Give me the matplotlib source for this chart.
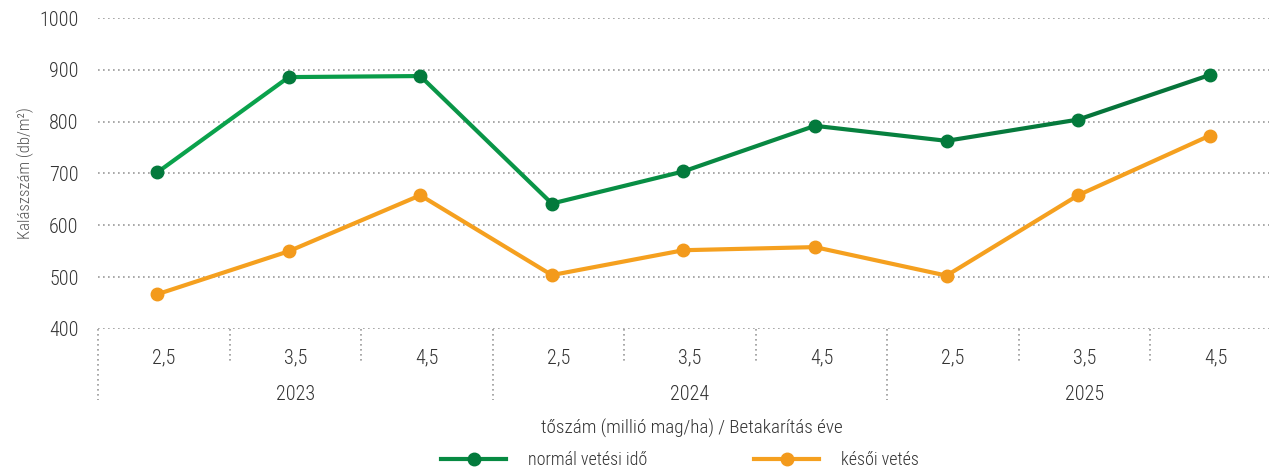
import numpy as np
import matplotlib
matplotlib.use('Agg')
import matplotlib.pyplot as plt
from matplotlib.collections import LineCollection
from matplotlib.colors import LinearSegmentedColormap
from matplotlib.lines import Line2D
import matplotlib.transforms as mtransforms

plt.rcParams['font.family'] = ['Roboto Condensed', 'DejaVu Sans']
plt.rcParams['font.weight'] = 'light'

# data
years = ['2023', '2024', '2025']
densities = ['2,5', '3,5', '4,5']
normal = [702, 886, 888, 642, 704, 792, 763, 804, 890]
late = [467, 550, 658, 504, 552, 558, 503, 658, 773]
series_names = ['normál vetési idő', 'késői vetés']
y_ticks = [400, 500, 600, 700, 800, 900, 1000]

txt_col = '#333333'
grid_col = '#9a9a9a'
green_cmap = LinearSegmentedColormap.from_list('gr', ['#0aa24c', '#06743a'])
orange_col = '#f5a01f'
green_mk = '#037a3c'

fig = plt.figure(figsize=(12.69, 4.68), dpi=100)
ax = fig.add_axes([98 / 1269, 1 - 329 / 468, 1184 / 1269, 311 / 468])

n = len(normal)
x = np.arange(n) - 0.05

# green line, gradient from left to right
pts = np.column_stack([x, normal])
segs = np.stack([pts[:-1], pts[1:]], axis=1)
lc = LineCollection(segs, colors=green_cmap(np.linspace(0, 1, n - 1)), linewidth=3, capstyle='round', zorder=3)
ax.add_collection(lc)
ax.plot(x, normal, ls='none', marker='o', ms=9, color=green_mk, zorder=4)

ax.plot(x, late, color=orange_col, lw=3, marker='o', ms=9, mfc='#f39a1c', mec='#f39a1c', zorder=3)

ax.set_xlim(-0.5, 8.5)
ax.set_ylim(400, 1000)
ax.set_yticks(y_ticks)
ax.set_yticklabels([str(v) for v in y_ticks], fontsize=14.5, color=txt_col)
ax.tick_params(axis='y', length=0, pad=14)
ax.set_xticks([])
for s in ax.spines.values():
    s.set_visible(False)
ax.yaxis.grid(True, color=grid_col, linestyle=(0, (1, 2)), linewidth=1.2)
ax.set_axisbelow(True)
fig.text(25 / 1269, 1 - 173 / 468, 'Kalászszám (db/m²)', rotation=90, ha='center', va='center',
         fontsize=12, color='#555555')

# category axis below the plot
tr = mtransforms.blended_transform_factory(ax.transData, ax.transAxes)
px = 1 / 311
for i in range(n + 1):
    xd = i - 0.5
    low = -71 * px if i % 3 == 0 else -33 * px
    ax.plot([xd, xd], [0, low], transform=tr, clip_on=False, color=grid_col,
            linestyle=(0, (1, 2)), linewidth=1.2)
for i in range(n):
    ax.text(i, -29 * px, densities[i % 3], transform=tr, ha='center', va='center',
            fontsize=14.5, color=txt_col)
for g, yr in enumerate(years):
    ax.text(g * 3 + 1, -65 * px, yr, transform=tr, ha='center', va='center',
            fontsize=14.5, color=txt_col)

fig.text(692 / 1269, 1 - 428 / 468, 'tőszám (millió mag/ha) / Betakarítás éve',
         ha='center', va='center', fontsize=13.8, color=txt_col)

handles = [Line2D([], [], color='#078a42', lw=3, marker='o', ms=9, mfc=green_mk, mec=green_mk),
           Line2D([], [], color=orange_col, lw=3, marker='o', ms=9, mfc='#f39a1c', mec='#f39a1c')]
fig.legend(handles, series_names, loc='center', bbox_to_anchor=(680 / 1269, 1 - 460 / 468),
           ncol=2, frameon=False, fontsize=13, handlelength=3.6, columnspacing=5.95,
           handletextpad=1.2, labelcolor=txt_col)

fig.savefig('out.png', dpi=100)
